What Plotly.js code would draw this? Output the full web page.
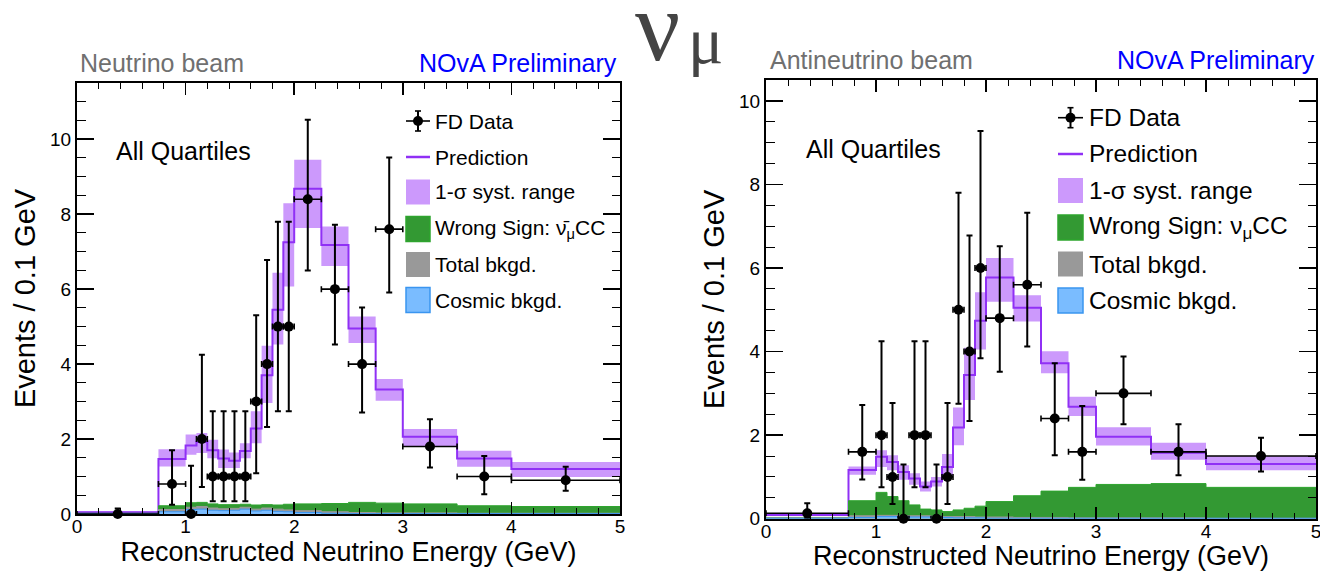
<!DOCTYPE html>
<html>
<head>
<meta charset="utf-8">
<script src="https://cdn.plot.ly/plotly-3.0.1.min.js"></script>
<style>html,body{margin:0;padding:0;background:#fff;}#chart{width:1320px;height:572px;}</style>
</head>
<body>
<div id="chart"></div>
<script>
// ---------------- DATA ----------------
// bin edges (GeV), shared by both panels
const binEdges = [0, 0.75, 1.0, 1.1, 1.2, 1.3, 1.4, 1.5, 1.6, 1.7, 1.8, 1.9, 2.0, 2.25, 2.5, 2.75, 3.0, 3.5, 4.0, 5.0];

// Neutrino beam (left)
const nuPred   = [0.05, 1.47, 1.83, 1.92, 1.70, 1.48, 1.42, 1.68, 2.28, 3.70, 5.45, 7.25, 8.68, 7.18, 4.95, 3.32, 2.06, 1.48, 1.20];
const nuSystHi = [0.07, 1.73, 2.12, 2.16, 1.98, 1.72, 1.64, 1.89, 2.74, 4.49, 6.44, 8.29, 9.45, 7.67, 5.27, 3.60, 2.27, 1.69, 1.39];
const nuSystLo = [0.03, 1.27, 1.58, 1.63, 1.49, 1.23, 1.23, 1.49, 1.89, 2.96, 4.52, 6.07, 7.63, 6.62, 4.56, 3.02, 1.80, 1.26, 0.99];
const nuWrongSign = [0.02, 0.22, 0.30, 0.31, 0.27, 0.25, 0.25, 0.26, 0.24, 0.25, 0.24, 0.26, 0.27, 0.28, 0.31, 0.29, 0.27, 0.22, 0.20];
const nuTotalBkg  = [0.01, 0.12, 0.18, 0.20, 0.16, 0.14, 0.15, 0.18, 0.13, 0.16, 0.13, 0.11, 0.09, 0.06, 0.04, 0.03, 0.03, 0.02, 0.02];
const nuCosmicBkg = [0.01, 0.06, 0.12, 0.13, 0.10, 0.09, 0.10, 0.13, 0.08, 0.10, 0.07, 0.06, 0.04, 0.02, 0.01, 0.01, 0.01, 0.01, 0.01];
const nuData   = [0, 0.8, 0, 2, 1, 1, 1, 1, 3, 4, 5, 5, 8.4, 6.0, 4.0, 7.6, 1.8, 1.0, 0.9];
const nuDataHi = [0.15, 1.70, 1.29, 4.25, 2.74, 2.74, 2.74, 2.74, 5.30, 6.78, 7.80, 7.80, 10.52, 7.72, 5.51, 9.51, 2.53, 1.55, 1.26];
const nuDataLo = [0, 0.25, 0, 0.72, 0.34, 0.34, 0.34, 0.34, 1.09, 2.32, 2.74, 2.74, 6.50, 4.52, 2.71, 5.91, 1.24, 0.53, 0.62];

// Antineutrino beam (right)
const nubarPred   = [0.09, 1.165, 1.48, 1.36, 1.12, 0.96, 0.77, 0.89, 1.24, 2.18, 3.44, 4.74, 5.77, 5.05, 3.72, 2.68, 1.96, 1.58, 1.31];
const nubarSystHi = [0.11, 1.25, 1.64, 1.52, 1.28, 1.09, 0.89, 1.00, 1.55, 2.66, 4.09, 5.42, 6.24, 5.35, 4.01, 2.92, 2.19, 1.82, 1.50];
const nubarSystLo = [0.07, 1.05, 1.24, 1.16, 0.93, 0.81, 0.65, 0.77, 1.00, 1.76, 2.84, 4.05, 5.19, 4.72, 3.48, 2.46, 1.75, 1.41, 1.16];
const nubarWrongSign = [0.03, 0.43, 0.63, 0.53, 0.43, 0.33, 0.23, 0.21, 0.17, 0.21, 0.25, 0.30, 0.41, 0.55, 0.66, 0.75, 0.82, 0.84, 0.75];
const nubarTotalBkg  = [0.02, 0.07, 0.08, 0.08, 0.07, 0.07, 0.07, 0.06, 0.05, 0.05, 0.05, 0.04, 0.04, 0.03, 0.03, 0.02, 0.02, 0.02, 0.01];
const nubarCosmicBkg = [0.01, 0.03, 0.05, 0.05, 0.05, 0.04, 0.04, 0.04, 0.03, 0.02, 0.02, 0.02, 0.01, 0.01, 0.01, 0.01, 0.01, 0.01, 0.01];
const nubarData   = [0.13, 1.6, 2, 1, 0, 2, 2, 0, 1, 5, 4, 6, 4.8, 5.6, 2.4, 1.6, 3.0, 1.6, 1.5];
const nubarDataHi = [0.37, 2.72, 4.25, 2.77, 1.30, 4.25, 4.25, 1.30, 2.77, 7.80, 6.78, 9.28, 6.52, 7.32, 3.72, 2.70, 3.88, 2.26, 1.94];
const nubarDataLo = [0.02, 0.94, 0.75, 0.35, 0, 0.75, 0.75, 0, 0.35, 2.75, 2.34, 3.84, 3.52, 4.12, 1.52, 0.93, 2.26, 1.04, 1.13];

// Text
const panelTitles = ["Neutrino beam", "Antineutrino beam"];
const prelimText = "NOvA Preliminary";
const quartileText = "All Quartiles";
const xTitle = "Reconstructed Neutrino Energy (GeV)";
const yTitle = "Events / 0.1 GeV";
const flavourText = ["\u03bd", "\u03bc"];
const legendLabelsNu = ["FD Data", "Prediction", "1-\u03c3 syst. range", "Wrong Sign: \u03bd\u0304<sub>\u03bc</sub>CC", "Total bkgd.", "Cosmic bkgd."];
const legendLabelsNubar = ["FD Data", "Prediction", "1-\u03c3 syst. range", "Wrong Sign: \u03bd<sub>\u03bc</sub>CC", "Total bkgd.", "Cosmic bkgd."];

// ---------------- STYLE ----------------
const W = 1320, H = 572;
const FONT = "Liberation Sans, Arial, Helvetica, sans-serif";
const SERIF = "Liberation Serif, Times New Roman, serif";
const C = {
  pred: "#9030f5", band: "#cc99fc", ws: "#339933", wsLine: "#2ea52e",
  tot: "#999999", cos: "#7abcff", cosLine: "#3a95f0", data: "#000000"
};
const fx = p => p / W;
const fy = p => 1 - p / H;

function stepY(v) { return v.concat([v[v.length - 1]]); }
const centers = binEdges.slice(0, -1).map((e, i) => (e + binEdges[i + 1]) / 2);
const halfW = binEdges.slice(0, -1).map((e, i) => (binEdges[i + 1] - e) / 2);

function panelTraces(xa, ya, pred, hi, lo, ws, tot, cos, data, dHi, dLo) {
  const bx = [], by = [];
  for (let i = 0; i < pred.length; i++) { bx.push(binEdges[i], binEdges[i + 1]); by.push(hi[i], hi[i]); }
  for (let i = pred.length - 1; i >= 0; i--) { bx.push(binEdges[i + 1], binEdges[i]); by.push(lo[i], lo[i]); }
  const common = { xaxis: xa, yaxis: ya, showlegend: false, hoverinfo: "skip" };
  return [
    Object.assign({ type: "scatter", mode: "lines", x: bx, y: by, fill: "toself", fillcolor: C.band, line: { width: 0, color: C.band } }, common),
    Object.assign({ type: "scatter", mode: "lines", x: binEdges, y: stepY(pred), line: { shape: "hv", color: C.pred, width: 2 } }, common),
    Object.assign({ type: "scatter", mode: "lines", x: binEdges, y: stepY(ws), fill: "tozeroy", fillcolor: C.ws, line: { shape: "hv", color: C.wsLine, width: 1 } }, common),
    Object.assign({ type: "scatter", mode: "lines", x: binEdges, y: stepY(tot), fill: "tozeroy", fillcolor: C.tot, line: { shape: "hv", color: C.tot, width: 1 } }, common),
    Object.assign({ type: "scatter", mode: "lines", x: binEdges, y: stepY(cos), fill: "tozeroy", fillcolor: C.cos, line: { shape: "hv", color: C.cosLine, width: 1 } }, common),
    Object.assign({ type: "scatter", mode: "markers", x: centers, y: data, cliponaxis: false,
      marker: { color: C.data, size: 10 },
      error_x: { type: "data", array: halfW, color: C.data, thickness: 1.6, width: 3 },
      error_y: { type: "data", symmetric: false, array: dHi.map((h, i) => h - data[i]), arrayminus: data.map((v, i) => v - dLo[i]), color: C.data, thickness: 2, width: 3 }
    }, common)
  ];
}

const traces = [].concat(
  panelTraces("x", "y", nuPred, nuSystHi, nuSystLo, nuWrongSign, nuTotalBkg, nuCosmicBkg, nuData, nuDataHi, nuDataLo),
  panelTraces("x2", "y2", nubarPred, nubarSystHi, nubarSystLo, nubarWrongSign, nubarTotalBkg, nubarCosmicBkg, nubarData, nubarDataHi, nubarDataLo)
);

function xAxis(domain, anchor) {
  return {
    domain: domain, anchor: anchor, range: [0, 5], tick0: 0, dtick: 1,
    ticks: "inside", ticklen: 12, tickwidth: 1.5, tickcolor: "#000",
    showline: true, linewidth: 2, linecolor: "#000", mirror: "allticks",
    showgrid: false, zeroline: false, ticklabeloverflow: "allow", ticklabelstandoff: -6,
    minor: { dtick: 0.2, ticks: "inside", ticklen: 6, tickwidth: 1, tickcolor: "#000", showgrid: false },
    tickfont: { family: FONT, size: 19, color: "#000" },
    title: { text: xTitle, font: { family: FONT, size: 27, color: "#000" }, standoff: 4 }
  };
}
function yAxis(domain, anchor, top) {
  return {
    domain: domain, anchor: anchor, range: [0, top], tick0: 0, dtick: 2,
    ticks: "inside", ticklen: 17, tickwidth: 1.5, tickcolor: "#000",
    showline: true, linewidth: 2, linecolor: "#000", mirror: "allticks",
    showgrid: false, zeroline: false, ticklabeloverflow: "allow",
    minor: { dtick: 0.5, ticks: "inside", ticklen: 8.5, tickwidth: 1, tickcolor: "#000", showgrid: false },
    tickfont: { family: FONT, size: 19, color: "#000" },
    title: { text: yTitle, font: { family: FONT, size: 29, color: "#000" }, standoff: 6 }
  };
}

const annotations = [];
const shapes = [];
function txt(text, x, y, size, color, xanchor, family) {
  annotations.push({ xref: "paper", yref: "paper", x: fx(x), y: fy(y), text: text, showarrow: false,
    xanchor: xanchor || "left", yanchor: "middle", font: { family: family || FONT, size: size, color: color || "#000" } });
}

// headers
txt(panelTitles[0], 78, 63, 25, "#707070", "left");
txt(prelimText, 619, 63, 25, "#0000ff", "right");
txt(panelTitles[1], 768, 60, 25, "#707070", "left");
txt(prelimText, 1317, 60, 25, "#0000ff", "right");
txt(flavourText[0], 657, 27, 100, "#444444", "center", SERIF);
txt(flavourText[1], 706, 41, 66, "#444444", "center", SERIF);
txt(quartileText, 114, 151, 25, "#000", "left");
txt(quartileText, 804, 149, 25, "#000", "left");

// legends (drawn manually)
function legend(labels, gx0, gx1, tx, rows, size) {
  const gc = (gx0 + gx1) / 2;
  const ln = (x0, y0, x1, y1, color, w) => shapes.push({ type: "line", xref: "paper", yref: "paper", x0: fx(x0), y0: fy(y0), x1: fx(x1), y1: fy(y1), line: { color: color, width: w }, layer: "above" });
  const box = (y, fill, lc) => shapes.push({ type: "rect", xref: "paper", yref: "paper", x0: fx(gx0), x1: fx(gx1), y0: fy(y - 12.5), y1: fy(y + 12.5), fillcolor: fill, line: { color: lc, width: lc ? 1.5 : 0 }, layer: "above" });
  // FD Data
  ln(gx0, rows[0], gx1, rows[0], "#000", 1.6);
  ln(gc, rows[0] - 10, gc, rows[0] + 10, "#000", 2);
  ln(gc - 3, rows[0] - 10, gc + 3, rows[0] - 10, "#000", 1.6);
  ln(gc - 3, rows[0] + 10, gc + 3, rows[0] + 10, "#000", 1.6);
  shapes.push({ type: "circle", xref: "paper", yref: "paper", x0: fx(gc - 5), x1: fx(gc + 5), y0: fy(rows[0] + 5), y1: fy(rows[0] - 5), fillcolor: "#000", line: { width: 0 }, layer: "above" });
  // Prediction
  ln(gx0, rows[1], gx1, rows[1], C.pred, 2.5);
  box(rows[2], C.band, null);
  box(rows[3], C.ws, C.wsLine);
  box(rows[4], C.tot, null);
  box(rows[5], C.cos, C.cosLine);
  labels.forEach((l, i) => txt(l, tx, rows[i], size, "#000", "left"));
}
legend(legendLabelsNu, 406, 430, 433, [121, 157, 192, 229, 264.5, 300], 21);
legend(legendLabelsNubar, 1058, 1083, 1087, [117.7, 154, 190.5, 227.5, 264, 300.5], 24.5);

const layout = {
  width: W, height: H,
  margin: { l: 0, r: 0, t: 0, b: 0 },
  paper_bgcolor: "#fff", plot_bgcolor: "#fff",
  showlegend: false,
  font: { family: FONT },
  xaxis: xAxis([fx(77), fx(620)], "y"),
  yaxis: yAxis([fy(514), fy(83)], "x", 11.5),
  xaxis2: xAxis([fx(766), fx(1316)], "y2"),
  yaxis2: yAxis([fy(518.7), fy(80)], "x2", 10.5),
  annotations: annotations,
  shapes: shapes
};

Plotly.newPlot("chart", traces, layout, { staticPlot: true, displayModeBar: false });
</script>
</body>
</html>
